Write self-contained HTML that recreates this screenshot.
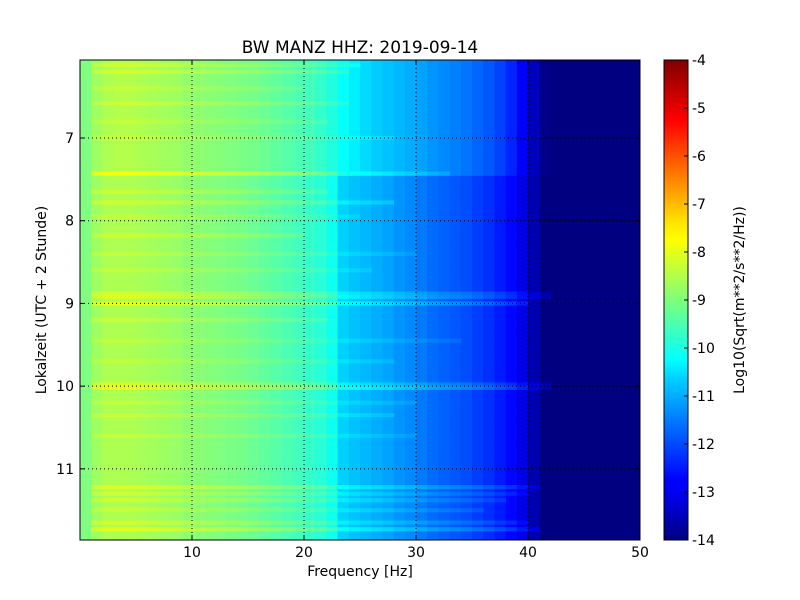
<!DOCTYPE html>
<html><head><meta charset="utf-8"><style>
body{margin:0;background:#fff;}
svg{display:block;font-family:"DejaVu Sans","Liberation Sans",sans-serif;}
</style></head><body>
<svg id="chart" width="800" height="600" viewBox="0 0 800 600">
<rect width="800" height="600" fill="#fff"/>
<text x="360" y="53" text-anchor="middle" font-size="17">BW MANZ HHZ: 2019-09-14</text>
<g id="heat"></g>
<g id="grid"></g>
<rect x="80" y="60" width="560" height="480" fill="none" stroke="#000" stroke-width="1"/>
<g id="axes"></g>
<text x="360" y="576" text-anchor="middle" font-size="14">Frequency [Hz]</text>
<text transform="translate(46,300) rotate(-90)" text-anchor="middle" font-size="14">Lokalzeit (UTC + 2 Stunde)</text>
<defs><linearGradient id="jet" x1="0" y1="1" x2="0" y2="0">
<stop offset="0" stop-color="#000080"/><stop offset="0.11" stop-color="#0000ff"/><stop offset="0.125" stop-color="#0000ff"/>
<stop offset="0.34" stop-color="#00d4ff"/><stop offset="0.375" stop-color="#0ff"/><stop offset="0.5" stop-color="#7dff7a"/>
<stop offset="0.625" stop-color="#ff0"/><stop offset="0.66" stop-color="#ffe600"/><stop offset="0.875" stop-color="#f00"/><stop offset="1" stop-color="#800000"/>
</linearGradient></defs>
<rect x="664" y="60" width="24" height="480" fill="url(#jet)" stroke="#000"/>
<g id="cbax"></g>
<text transform="translate(744,300) rotate(-90)" text-anchor="middle" font-size="14">Log10(Sqrt(m**2/s**2/Hz))</text>
</svg>
<script>
// spectrum (1 Hz bins, 0..49 Hz) before ~7.4h
const specEarly=[-9.0,-8.7,-8.55,-8.5,-8.5,-8.55,-8.6,-8.65,-8.7,-8.8,-8.85,-8.9,-8.95,-9.0,-9.05,-9.1,-9.2,-9.3,-9.4,-9.5,-9.6,-9.75,-9.95,-10.2,-10.4,-10.6,-10.75,-10.85,-10.95,-11.05,-11.15,-11.3,-11.4,-11.5,-11.6,-11.75,-11.9,-12.1,-12.4,-12.8,-13.4,-13.9,-14.3,-14.3,-14.3,-14.3,-14.3,-14.3,-14.3,-14.3];
// spectrum after ~7.4h
const specLate=[-9.0,-8.7,-8.55,-8.55,-8.55,-8.6,-8.65,-8.7,-8.75,-8.85,-8.9,-8.95,-9.0,-9.05,-9.1,-9.2,-9.3,-9.4,-9.5,-9.6,-9.75,-9.85,-10.1,-10.7,-10.85,-10.95,-11.05,-11.15,-11.3,-11.4,-11.55,-11.7,-11.8,-11.9,-12.0,-12.15,-12.3,-12.5,-12.7,-13.0,-13.5,-14.0,-14.3,-14.3,-14.3,-14.3,-14.3,-14.3,-14.3,-14.3];
const changeTime=7.42;
// transient events: time (h), boost, max frequency
const eventTimes=[6.12,6.2,6.4,6.58,6.8,7.0,7.43,7.65,7.78,7.95,8.18,8.4,8.6,8.88,8.92,9.0,9.2,9.45,9.7,9.98,10.02,10.2,10.35,10.6,11.22,11.3,11.38,11.5,11.65,11.73];
const eventBoost=[0.25,0.3,0.2,0.25,0.2,0.2,0.7,0.3,0.35,0.2,0.3,0.2,0.2,0.35,0.45,0.55,0.25,0.2,0.2,0.4,0.6,0.2,0.25,0.2,0.45,0.3,0.3,0.25,0.35,0.5];
const eventFmax=[25,24,20,24,22,28,33,22,28,25,20,30,26,42,42,40,22,34,28,42,42,30,28,30,41,40,38,36,40,41];
const xTicks=[10,20,30,40,50];
const yTicks=[7,8,9,10,11];
const cbTicks=[-4,-5,-6,-7,-8,-9,-10,-11,-12,-13,-14];
const T0=6.057,T1=11.86,F0=0,F1=50,V0=-14,V1=-4;
const X=f=>80+(f-F0)/(F1-F0)*560;
const Y=t=>60+(t-T0)/(T1-T0)*480;
function jet(v){let x=(v-V0)/(V1-V0);x=Math.max(0,Math.min(1,x));
 const c=k=>Math.max(0,Math.min(1,1.5-Math.abs(4*x-k)));
 return `rgb(${Math.round(255*c(3))},${Math.round(255*c(2))},${Math.round(255*c(1))})`;}
const NS='http://www.w3.org/2000/svg';
function mk(tag,attrs,parent){const e=document.createElementNS(NS,tag);for(const k in attrs)e.setAttribute(k,attrs[k]);parent.appendChild(e);return e;}
const heat=document.getElementById('heat');
const dt=0.1;
for(let t=T0;t<T1;t+=dt){
 const t2=Math.min(T1,t+dt);
 const spec=(t+dt/2)<changeTime?specEarly:specLate;
 for(let f=0;f<50;f++){
  const r=mk('rect',{x:X(f),y:Y(t),width:X(f+1)-X(f)+0.5,height:Y(t2)-Y(t)+0.5,fill:jet(spec[f])},heat);
  
  
 }
}
for(let i=0;i<eventTimes.length;i++){
 const spec=eventTimes[i]<changeTime?specEarly:specLate;
 for(let f=1;f<eventFmax[i];f++){
  const r=mk('rect',{x:X(f),y:Y(eventTimes[i]-0.025),width:X(f+1)-X(f)+0.5,height:Y(eventTimes[i]+0.025)-Y(eventTimes[i]-0.025),fill:jet(spec[f]+eventBoost[i])},heat);
  
  
 }
}
const grid=document.getElementById('grid'),axes=document.getElementById('axes'),cb=document.getElementById('cbax');
xTicks.forEach(v=>{
 if(v<F1){const g=mk('line',{x1:X(v),x2:X(v),y1:60,y2:540,stroke:'#000','stroke-dasharray':'1,3'},grid);
 }
 mk('line',{x1:X(v),x2:X(v),y1:540,y2:535,stroke:'#000'},axes);
 mk('line',{x1:X(v),x2:X(v),y1:60,y2:65,stroke:'#000'},axes);
 const l=mk('text',{x:X(v),y:557,'text-anchor':'middle','font-size':14},axes);l.textContent=v;
 
});
yTicks.forEach(v=>{
 const g=mk('line',{x1:80,x2:640,y1:Y(v),y2:Y(v),stroke:'#000','stroke-dasharray':'1,3'},grid);
 
 mk('line',{x1:80,x2:85,y1:Y(v),y2:Y(v),stroke:'#000'},axes);
 mk('line',{x1:635,x2:640,y1:Y(v),y2:Y(v),stroke:'#000'},axes);
 const l=mk('text',{x:74,y:Y(v)+5,'text-anchor':'end','font-size':14},axes);l.textContent=v;
 
});
cbTicks.forEach(v=>{
 const y=60+(V1-v)/(V1-V0)*480;
 mk('line',{x1:684,x2:688,y1:y,y2:y,stroke:'#000'},cb);
 const l=mk('text',{x:692,y:y+5,'font-size':14},cb);l.textContent=v;
 
});
</script>
</body></html>
